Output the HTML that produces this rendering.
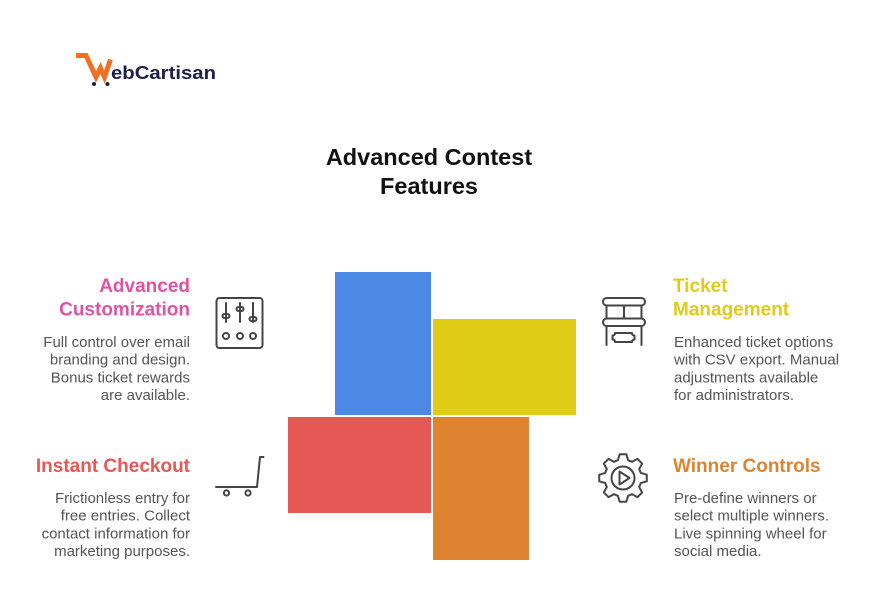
<!DOCTYPE html>
<html>
<head>
<meta charset="utf-8">
<style>
  html,body{margin:0;padding:0;background:#fff;}
  body{width:886px;height:609px;overflow:hidden;}
  svg{display:block;}
  text{font-family:"Liberation Sans", Arial, sans-serif;}
  .h{font-weight:bold;font-size:19px;}
  .d{font-size:15px;fill:#555555;}
  .ic{fill:none;stroke:#454545;stroke-width:2;stroke-linecap:round;stroke-linejoin:round;}
</style>
</head>
<body>
<svg width="886" height="609" viewBox="0 0 886 609" xmlns="http://www.w3.org/2000/svg">
  <rect x="0" y="0" width="886" height="609" fill="#ffffff"/>

  <!-- Logo -->
  <g>
    <polyline points="76,55.5 86,55.5 96,77 100.5,68 104.5,77 110.5,59.5" fill="none" stroke="#F36F21" stroke-width="5" stroke-linejoin="miter" stroke-miterlimit="3"/>
    <circle cx="94" cy="84" r="2" fill="#1B1F4B"/>
    <circle cx="107.5" cy="84" r="2" fill="#1B1F4B"/>
    <text x="111" y="79" font-size="18" font-weight="bold" fill="#1B1F4B" textLength="105" lengthAdjust="spacingAndGlyphs">ebCartisan</text>
  </g>

  <!-- Title -->
  <text x="429" y="165" text-anchor="middle" font-size="23.5" font-weight="bold" fill="#111">Advanced Contest</text>
  <text x="429" y="194" text-anchor="middle" font-size="23.5" font-weight="bold" fill="#111">Features</text>

  <!-- Center blocks -->
  <rect x="335" y="272" width="96" height="143" fill="#4C89E6"/>
  <rect x="433" y="319" width="143" height="96" fill="#E0CB15"/>
  <rect x="288" y="417" width="143" height="96" fill="#E65855"/>
  <rect x="433" y="417" width="96" height="143" fill="#DE8430"/>

  <!-- Top-left: Advanced Customization -->
  <text class="h" x="190" y="292" text-anchor="end" fill="#E052A6">Advanced</text>
  <text class="h" x="190" y="315.5" text-anchor="end" fill="#E052A6">Customization</text>
  <text class="d" x="190" y="347" text-anchor="end">Full control over email</text>
  <text class="d" x="190" y="364.7" text-anchor="end">branding and design.</text>
  <text class="d" x="190" y="382.4" text-anchor="end">Bonus ticket rewards</text>
  <text class="d" x="190" y="400" text-anchor="end">are available.</text>

  <!-- Sliders icon -->
  <g class="ic">
    <rect x="216.5" y="298" width="46" height="50" rx="3"/>
    <line x1="226" y1="303" x2="226" y2="322"/>
    <rect x="222.5" y="314" width="7" height="4" rx="2"/>
    <line x1="240" y1="303" x2="240" y2="322"/>
    <rect x="236.5" y="307" width="7" height="4" rx="2"/>
    <line x1="253" y1="303" x2="253" y2="322"/>
    <rect x="249.5" y="317" width="7" height="4" rx="2"/>
    <circle cx="226" cy="336" r="3"/>
    <circle cx="240" cy="336" r="3"/>
    <circle cx="253" cy="336" r="3"/>
  </g>

  <!-- Top-right: Ticket Management -->
  <text class="h" x="673" y="292" fill="#E0CB15">Ticket</text>
  <text class="h" x="673" y="315.5" fill="#E0CB15">Management</text>
  <text class="d" x="674" y="347">Enhanced ticket options</text>
  <text class="d" x="674" y="364.7">with CSV export. Manual</text>
  <text class="d" x="674" y="382.4">adjustments available</text>
  <text class="d" x="674" y="400">for administrators.</text>

  <!-- Ticket booth icon -->
  <g class="ic">
    <rect x="603" y="298" width="42" height="7.5" rx="3.7"/>
    <line x1="606.5" y1="305.5" x2="606.5" y2="318.5"/>
    <line x1="641.5" y1="305.5" x2="641.5" y2="318.5"/>
    <line x1="624" y1="305.5" x2="624" y2="318.5"/>
    <rect x="603" y="318.5" width="42" height="7.5" rx="3.7"/>
    <line x1="606.5" y1="326" x2="606.5" y2="345"/>
    <line x1="641.5" y1="326" x2="641.5" y2="345"/>
    <path d="M615,333 H632 Q632,335.5 634.5,335.5 V339.5 Q632,339.5 632,342 H615 Q615,339.5 612.5,339.5 V335.5 Q615,335.5 615,333 Z"/>
  </g>

  <!-- Bottom-left: Instant Checkout -->
  <text class="h" x="190" y="472" text-anchor="end" fill="#E65855">Instant Checkout</text>
  <text class="d" x="190" y="503" text-anchor="end">Frictionless entry for</text>
  <text class="d" x="190" y="520.7" text-anchor="end">free entries. Collect</text>
  <text class="d" x="190" y="538.4" text-anchor="end">contact information for</text>
  <text class="d" x="190" y="556" text-anchor="end">marketing purposes.</text>

  <!-- Cart icon -->
  <g class="ic">
    <polyline points="216,487 257,487 260,457 263.5,457"/>
    <circle cx="226.5" cy="493" r="2.6"/>
    <circle cx="248" cy="493" r="2.6"/>
  </g>

  <!-- Bottom-right: Winner Controls -->
  <text class="h" x="673" y="472" fill="#DE8430">Winner Controls</text>
  <text class="d" x="674" y="503">Pre-define winners or</text>
  <text class="d" x="674" y="520.7">select multiple winners.</text>
  <text class="d" x="674" y="538.4">Live spinning wheel for</text>
  <text class="d" x="674" y="556">social media.</text>

  <!-- Gear icon -->
  <g class="ic" stroke-linejoin="round">
    <polygon points="640.78,472.9 646.77,474.66 646.77,481.34 640.78,483.1 639.18,486.97 642.17,492.45 637.45,497.17 631.97,494.18 628.1,495.78 626.34,501.77 619.66,501.77 617.9,495.78 614.03,494.18 608.55,497.17 603.83,492.45 606.82,486.97 605.22,483.1 599.23,481.34 599.23,474.66 605.22,472.9 606.82,469.03 603.83,463.55 608.55,458.83 614.03,461.82 617.9,460.22 619.66,454.23 626.34,454.23 628.1,460.22 631.97,461.82 637.45,458.83 642.17,463.55 639.18,469.03"/>
    <circle cx="623" cy="478" r="11.5"/>
    <polygon points="619.5,471.5 629.5,478 619.5,484.5"/>
  </g>
</svg>
</body>
</html>
